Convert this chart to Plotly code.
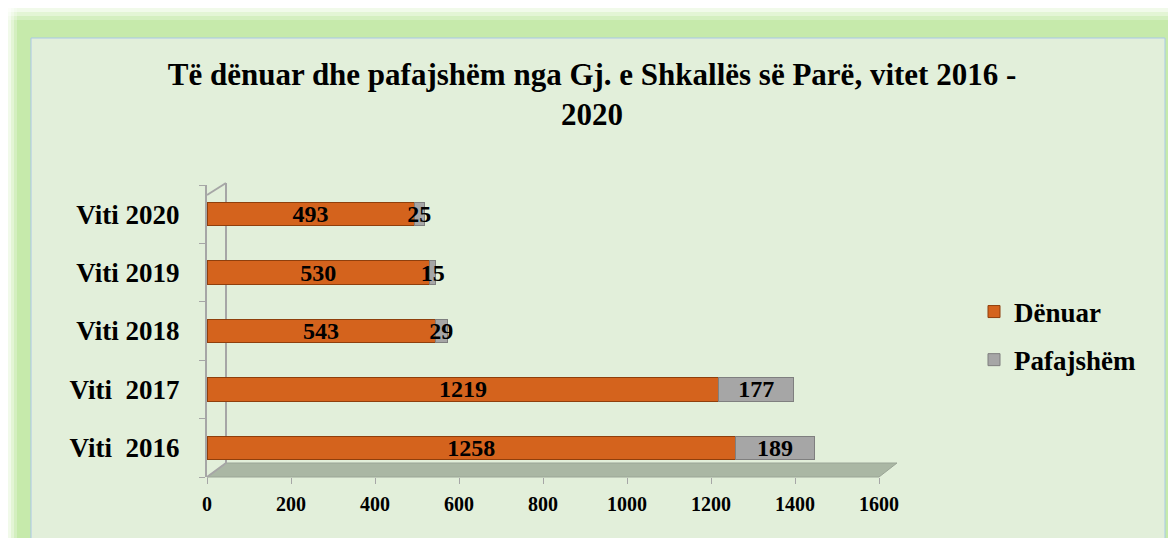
import plotly.graph_objects as go

categories = ["Viti\u00a0\u00a02016", "Viti\u00a0\u00a02017", "Viti 2018", "Viti 2019", "Viti 2020"]
denuar = [1258, 1219, 543, 530, 493]
pafajshem = [189, 177, 29, 15, 25]
x_ticks = [0, 200, 400, 600, 800, 1000, 1200, 1400, 1600]

# page body has an 8px margin; work in reference pixel coords and shift
OFF = 8
W, H = 1176 - OFF, 538 - OFF
L = 207 - OFF
T = 185 - OFF
pw = 672
ph = 292
R = W - L - pw
B = H - T - ph

def px(x):
    return (x - OFF - L) / pw

def py(y):
    return (T + ph - (y - OFF)) / ph

FONT = "Liberation Serif"

fig = go.Figure()
fig.add_trace(go.Bar(
    y=categories, x=denuar, orientation="h", name="Dënuar",
    marker=dict(color="#d4631d", line=dict(color="#8f3f0c", width=1)),
    text=denuar, textposition="inside", insidetextanchor="middle",
    constraintext="none",
    textfont=dict(family=FONT, size=24, color="black", weight="bold"),
    legendgroup="a",
))
fig.add_trace(go.Bar(
    y=categories, x=pafajshem, orientation="h", name="Pafajshëm",
    marker=dict(color="#a6a6a6", line=dict(color="#7f7f7f", width=1)),
    text=pafajshem, textposition="inside", insidetextanchor="middle",
    constraintext="none",
    textfont=dict(family=FONT, size=24, color="black", weight="bold"),
    legendgroup="b",
))

shapes = []
# outer green border
shapes.append(dict(type="rect", xref="paper", yref="paper", layer="below",
                   x0=px(0), x1=px(1180), y0=py(545), y1=py(0),
                   fillcolor="#c6eaab", line=dict(width=0)))
# soft white glow at top / left edge
for i, op in enumerate([0.75, 0.5, 0.25]):
    shapes.append(dict(type="rect", xref="paper", yref="paper", layer="below",
                       x0=px(0), x1=px(1180), y0=py(OFF + 4 * (i + 1)), y1=py(OFF + 4 * i),
                       fillcolor=f"rgba(255,255,255,{op})", line=dict(width=0)))
    shapes.append(dict(type="rect", xref="paper", yref="paper", layer="below",
                       x0=px(OFF + 3 * i), x1=px(OFF + 3 * (i + 1)), y0=py(545), y1=py(OFF),
                       fillcolor=f"rgba(255,255,255,{op})", line=dict(width=0)))
# inner panel
shapes.append(dict(type="rect", xref="paper", yref="paper", layer="below",
                   x0=px(31), x1=px(1165), y0=py(545), y1=py(38),
                   fillcolor="#e2efda", line=dict(color="#a9c8e8", width=1)))
# floor
shapes.append(dict(type="path", xref="paper", yref="paper", layer="below",
                   path=f"M {px(207)} {py(477)} L {px(879)} {py(477)} L {px(897)} {py(463)} L {px(226)} {py(463)} Z",
                   fillcolor="#aab7a4", line=dict(color="#9aa596", width=1)))
# back wall line and left wall edges
shapes.append(dict(type="line", xref="paper", yref="paper", layer="below",
                   x0=px(226), x1=px(226), y0=py(463), y1=py(183),
                   line=dict(color="#a6a6a6", width=2)))
shapes.append(dict(type="line", xref="paper", yref="paper", layer="below",
                   x0=px(207), x1=px(226), y0=py(195), y1=py(183),
                   line=dict(color="#a6a6a6", width=2)))
shapes.append(dict(type="line", xref="paper", yref="paper", layer="below",
                   x0=px(207), x1=px(226), y0=py(477), y1=py(463),
                   line=dict(color="#a6a6a6", width=2)))

fig.update_layout(
    width=W, height=H,
    margin=dict(l=L, r=R, t=T, b=B),
    barmode="stack", bargap=0.6,
    paper_bgcolor="#e2efda", plot_bgcolor="rgba(0,0,0,0)",
    shapes=shapes,
    title=dict(
        text="Të dënuar dhe pafajshëm nga Gj. e Shkallës së Parë, vitet 2016 -<br>2020",
        x=(592 - OFF) / W, xanchor="center", y=1 - (85 - OFF) / H, yanchor="middle",
        font=dict(family=FONT, size=31, color="black", weight="bold"),
    ),
    xaxis=dict(
        range=[0, 1600], tickvals=x_ticks, ticktext=[str(v) for v in x_ticks],
        showgrid=False, zeroline=False, showline=False,
        ticks="outside", ticklen=6, tickcolor="#a6a6a6",
        ticklabelstandoff=3,
        tickfont=dict(family=FONT, size=20, color="black", weight="bold"),
    ),
    yaxis=dict(
        categoryorder="array", categoryarray=categories,
        showgrid=False, showline=True, linecolor="#a6a6a6", linewidth=2,
        ticks="outside", ticklen=6, tickcolor="#a6a6a6", tickson="boundaries",
        ticklabelstandoff=20,
        tickfont=dict(family=FONT, size=27, color="black", weight="bold"),
        range=[-0.5, 4.5],
    ),
    legend=dict(
        x=px(974), y=py(336), xanchor="left", yanchor="middle",
        traceorder="grouped", tracegroupgap=10,
        font=dict(family=FONT, size=27, color="black", weight="bold"),
        bgcolor="rgba(0,0,0,0)", itemwidth=30,
    ),
    showlegend=True,
)

fig.write_html("out.html")
